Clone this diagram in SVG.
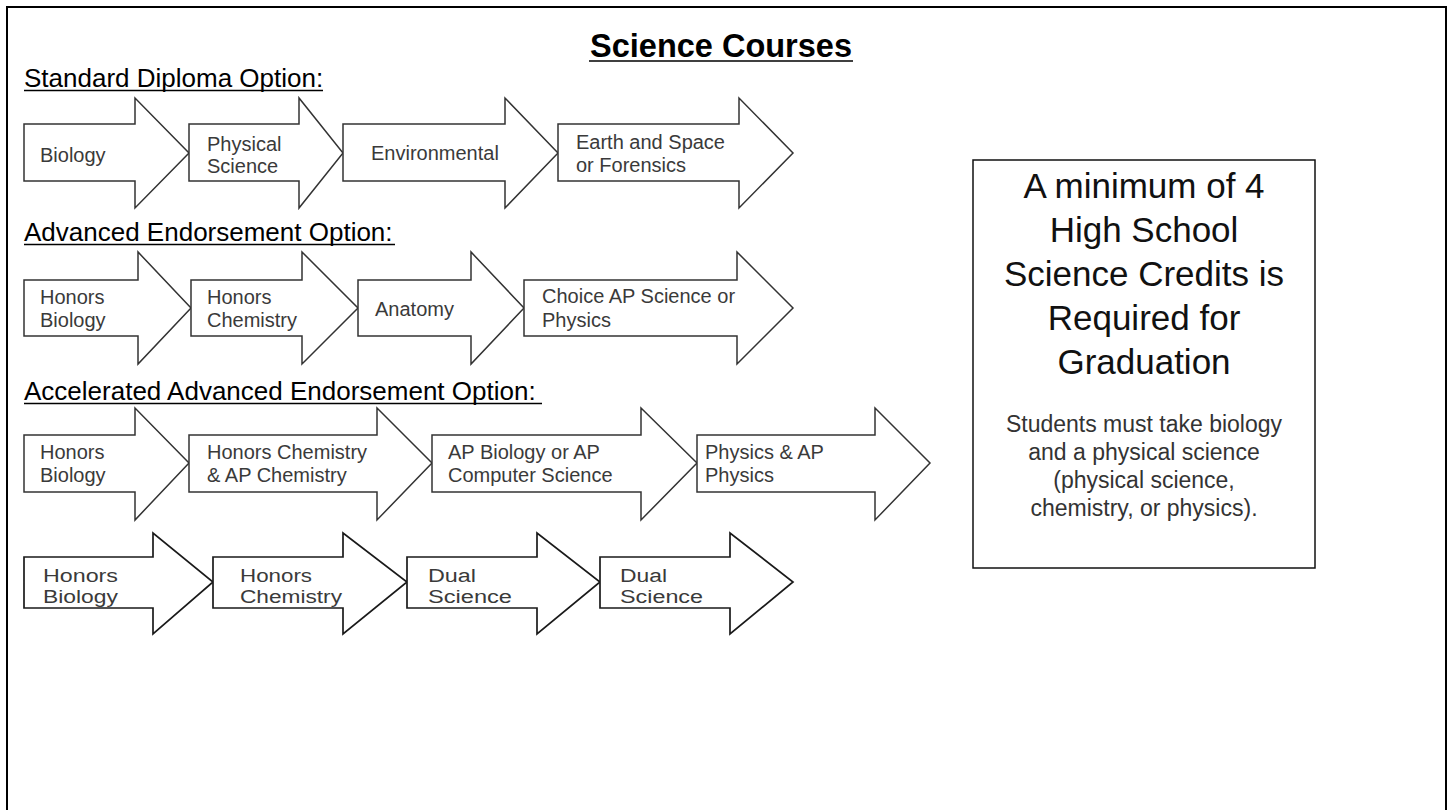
<svg xmlns="http://www.w3.org/2000/svg" width="1452" height="810" viewBox="0 0 1452 810">
<style>
.frame{fill:#fff;stroke:#000;stroke-width:2}
.arrow{fill:#fff;stroke:#333;stroke-width:1.5;stroke-linejoin:miter}
.arrow4{fill:#fff;stroke:#1a1a1a;stroke-width:1.7;stroke-linejoin:miter}
.t{font-family:"Liberation Sans",Arial,Helvetica,sans-serif}
.title{font-size:32.5px;font-weight:bold;fill:#000}
.head{font-size:26px;fill:#000}
.lbl{font-size:20px;fill:#3a3a3a}
.lbl4{font-size:18px;fill:#3a3a3a}
.big{font-size:35px;fill:#111;text-anchor:middle}
.small{font-size:23px;fill:#333;text-anchor:middle}
.ul{stroke:#000;stroke-width:1.5}
.box{fill:#fff;stroke:#111;stroke-width:1.5}
</style>
<rect x="0" y="0" width="1452" height="810" fill="#fff"/>
<rect class="frame" x="7" y="7" width="1439" height="840"/>

<g id="title">
<text class="t title" x="721" y="57" text-anchor="middle">Science Courses</text>
<line class="ul" x1="589" y1="61" x2="853" y2="61"/>
</g>

<g id="heading-standard">
<text class="t head" x="24" y="87">Standard Diploma Option:</text>
<line class="ul" x1="24" y1="90.5" x2="323" y2="90.5"/>
</g>
<g id="heading-advanced">
<text class="t head" x="24" y="241">Advanced Endorsement Option:</text>
<line class="ul" x1="24" y1="244.5" x2="395" y2="244.5"/>
</g>
<g id="heading-accelerated">
<text class="t head" x="24" y="400">Accelerated Advanced Endorsement Option:</text>
<line class="ul" x1="24" y1="403.5" x2="542" y2="403.5"/>
</g>

<!-- Row 1 -->
<g id="std-biology">
<polygon class="arrow" points="24,124 135,124 135,98 189,153 135,208 135,181 24,181"/>
<text class="t lbl" x="40" y="162">Biology</text>
</g>
<g id="std-physical-science">
<polygon class="arrow" points="189,124 299,124 299,98 343,153 299,208 299,181 189,181"/>
<text class="t lbl" x="207" y="151">Physical</text>
<text class="t lbl" x="207" y="173">Science</text>
</g>
<g id="std-environmental">
<polygon class="arrow" points="343,124 505,124 505,98 558,153 505,208 505,181 343,181"/>
<text class="t lbl" x="371" y="160">Environmental</text>
</g>
<g id="std-earth-space">
<polygon class="arrow" points="558,124 739,124 739,98 793,153 739,208 739,181 558,181"/>
<text class="t lbl" x="576" y="149">Earth and Space</text>
<text class="t lbl" x="576" y="172">or Forensics</text>
</g>

<!-- Row 2 -->
<g id="adv-honors-biology">
<polygon class="arrow" points="24,280 138,280 138,252 191,308 138,364 138,336 24,336"/>
<text class="t lbl" x="40" y="304">Honors</text>
<text class="t lbl" x="40" y="327">Biology</text>
</g>
<g id="adv-honors-chemistry">
<polygon class="arrow" points="191,280 302,280 302,252 358,308 302,364 302,336 191,336"/>
<text class="t lbl" x="207" y="304">Honors</text>
<text class="t lbl" x="207" y="327">Chemistry</text>
</g>
<g id="adv-anatomy">
<polygon class="arrow" points="358,280 471,280 471,252 524,308 471,364 471,336 358,336"/>
<text class="t lbl" x="375" y="316">Anatomy</text>
</g>
<g id="adv-choice-ap">
<polygon class="arrow" points="524,280 737,280 737,252 793,308 737,364 737,336 524,336"/>
<text class="t lbl" x="542" y="303">Choice AP Science or</text>
<text class="t lbl" x="542" y="327">Physics</text>
</g>

<!-- Row 3 -->
<g id="acc-honors-biology">
<polygon class="arrow" points="24,435 135,435 135,408 189,463 135,520 135,492 24,492"/>
<text class="t lbl" x="40" y="459">Honors</text>
<text class="t lbl" x="40" y="482">Biology</text>
</g>
<g id="acc-honors-ap-chemistry">
<polygon class="arrow" points="189,435 377,435 377,408 432,463 377,520 377,492 189,492"/>
<text class="t lbl" x="207" y="459">Honors Chemistry</text>
<text class="t lbl" x="207" y="482">&amp; AP Chemistry</text>
</g>
<g id="acc-ap-biology-cs">
<polygon class="arrow" points="432,435 641,435 641,408 697,463 641,520 641,492 432,492"/>
<text class="t lbl" x="448" y="459">AP Biology or AP</text>
<text class="t lbl" x="448" y="482">Computer Science</text>
</g>
<g id="acc-physics-ap">
<polygon class="arrow" points="697,435 875,435 875,408 930,463 875,520 875,492 697,492"/>
<text class="t lbl" x="705" y="459">Physics &amp; AP</text>
<text class="t lbl" x="705" y="482">Physics</text>
</g>

<!-- Row 4 -->
<g id="dual-honors-biology">
<polygon class="arrow4" points="24,557 153,557 153,533 213,582 153,634 153,608 24,608"/>
<text class="t lbl4" x="43" y="582" textLength="75" lengthAdjust="spacingAndGlyphs">Honors</text>
<text class="t lbl4" x="43" y="603" textLength="75" lengthAdjust="spacingAndGlyphs">Biology</text>
</g>
<g id="dual-honors-chemistry">
<polygon class="arrow4" points="213,557 343,557 343,533 407,582 343,634 343,608 213,608"/>
<text class="t lbl4" x="240" y="582" textLength="72" lengthAdjust="spacingAndGlyphs">Honors</text>
<text class="t lbl4" x="240" y="603" textLength="102" lengthAdjust="spacingAndGlyphs">Chemistry</text>
</g>
<g id="dual-science-1">
<polygon class="arrow4" points="407,557 537,557 537,533 600,582 537,634 537,608 407,608"/>
<text class="t lbl4" x="428" y="582" textLength="48" lengthAdjust="spacingAndGlyphs">Dual</text>
<text class="t lbl4" x="428" y="603" textLength="84" lengthAdjust="spacingAndGlyphs">Science</text>
</g>
<g id="dual-science-2">
<polygon class="arrow4" points="600,557 730,557 730,533 793,582 730,634 730,608 600,608"/>
<text class="t lbl4" x="620" y="582" textLength="47" lengthAdjust="spacingAndGlyphs">Dual</text>
<text class="t lbl4" x="620" y="603" textLength="83" lengthAdjust="spacingAndGlyphs">Science</text>
</g>

<g id="connectors"></g>

<g id="requirement-box">
<rect class="box" x="973" y="160" width="342" height="408"/>
<text class="t big" x="1144" y="198">A minimum of 4</text>
<text class="t big" x="1144" y="242">High School</text>
<text class="t big" x="1144" y="286">Science Credits is</text>
<text class="t big" x="1144" y="330">Required for</text>
<text class="t big" x="1144" y="374">Graduation</text>
<text class="t small" x="1144" y="432">Students must take biology</text>
<text class="t small" x="1144" y="460">and a physical science</text>
<text class="t small" x="1144" y="488">(physical science,</text>
<text class="t small" x="1144" y="516">chemistry, or physics).</text>
</g>
</svg>
